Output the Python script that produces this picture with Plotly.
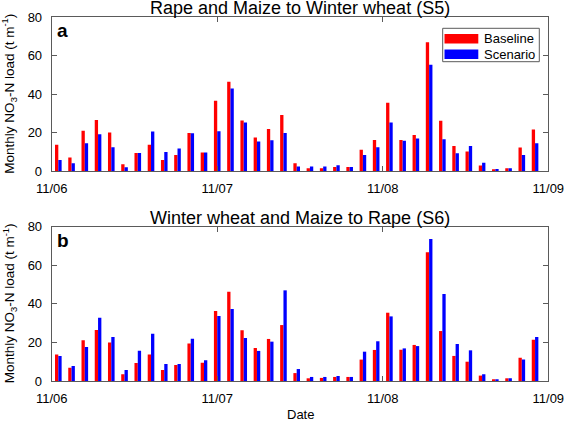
import plotly.graph_objects as go

months = list(range(1, 38))
tick_pos = [0.5, 13.0, 25.5, 38.0]
tick_text = ["11/06", "11/07", "11/08", "11/09"]

s5_baseline = [13.7, 7.0, 21.0, 26.6, 20.0, 3.5, 9.4, 13.7, 5.7, 8.3, 19.8, 9.6,
               36.5, 46.4, 26.3, 17.4, 21.9, 29.2, 4.0, 1.4, 1.4, 2.1, 2.1, 11.0,
               16.2, 35.5, 16.2, 18.8, 67.0, 26.1, 13.0, 10.1, 2.8, 0.7, 1.4, 12.2, 21.6]
s5_scenario = [5.7, 4.0, 14.4, 19.1, 12.3, 1.9, 9.4, 20.5, 9.9, 11.7, 19.7, 9.6,
               20.7, 43.0, 25.2, 15.3, 16.0, 19.8, 2.3, 2.3, 2.3, 3.0, 2.1, 8.3,
               12.3, 25.2, 15.8, 16.9, 55.3, 16.5, 9.2, 13.0, 4.3, 1.0, 1.4, 8.3, 14.4]
s6_baseline = [13.8, 6.9, 21.1, 26.4, 19.9, 3.5, 9.3, 13.7, 5.7, 8.3, 19.5, 9.5,
               36.3, 46.3, 26.3, 17.1, 21.8, 29.0, 4.1, 1.4, 1.6, 2.1, 2.1, 11.1,
               16.1, 35.4, 16.2, 18.7, 66.7, 25.9, 13.0, 10.0, 2.8, 0.9, 1.4, 12.1, 21.4]
s6_scenario = [13.0, 7.8, 17.6, 32.8, 22.8, 5.7, 15.7, 24.5, 8.8, 8.8, 21.9, 10.7,
               33.7, 37.3, 22.3, 15.6, 20.4, 47.0, 6.2, 2.1, 2.1, 2.6, 2.1, 15.2,
               20.6, 33.5, 16.9, 18.1, 73.6, 45.1, 19.2, 15.9, 3.5, 0.9, 1.4, 11.2, 22.8]

series_names = ["Baseline", "Scenario"]
titles = ["Rape and Maize to Winter wheat (S5)", "Winter wheat and Maize to Rape (S6)"]
panel_labels = ["a", "b"]
y_title = "Monthly NO<sub>3</sub>-N load (t m<sup>-1</sup>)"
x_title = "Date"

RED = "#ff0000"
BLUE = "#0000ff"
AXC = "#5a5a5a"
FONT = "Liberation Sans, Arial, sans-serif"
W, H = 567, 421


def px_x(p):
    return p / W


def px_y(p):
    return (H - p) / H


fig = go.Figure()
fig.add_trace(go.Bar(x=months, y=s5_baseline, name=series_names[0], marker_color=RED,
                     marker_line_width=0, xaxis="x", yaxis="y", offsetgroup="b"))
fig.add_trace(go.Bar(x=months, y=s5_scenario, name=series_names[1], marker_color=BLUE,
                     marker_line_width=0, xaxis="x", yaxis="y", offsetgroup="s"))
fig.add_trace(go.Bar(x=months, y=s6_baseline, name=series_names[0], marker_color=RED,
                     marker_line_width=0, xaxis="x2", yaxis="y2", offsetgroup="b"))
fig.add_trace(go.Bar(x=months, y=s6_scenario, name=series_names[1], marker_color=BLUE,
                     marker_line_width=0, xaxis="x2", yaxis="y2", offsetgroup="s"))

xd = [px_x(51.7), px_x(548.3)]
ydom_top = [px_y(171), px_y(17.3)]
ydom_bot = [px_y(381), px_y(226.7)]

axis_common = dict(showline=True, mirror="ticks", linecolor=AXC, linewidth=1,
                   ticks="inside", ticklen=5, tickcolor=AXC, showgrid=False,
                   zeroline=False, automargin=False,
                   tickfont=dict(size=13, color="#000", family=FONT))

fig.update_layout(
    width=W, height=H,
    margin=dict(l=0, r=0, t=0, b=0),
    paper_bgcolor="white", plot_bgcolor="white",
    font=dict(family=FONT, color="#000"),
    barmode="group", bargap=0.5, bargroupgap=0,
    showlegend=False,
    xaxis=dict(domain=xd, anchor="y", range=[0.5, 38], tickvals=tick_pos, ticktext=tick_text,
               ticklabelstandoff=5, **axis_common),
    yaxis=dict(domain=ydom_top, anchor="x", range=[0, 80], tickvals=[0, 20, 40, 60, 80],
               ticklabelstandoff=6, **axis_common),
    xaxis2=dict(domain=xd, anchor="y2", range=[0.5, 38], tickvals=tick_pos, ticktext=tick_text,
                ticklabelstandoff=5, **axis_common),
    yaxis2=dict(domain=ydom_bot, anchor="x2", range=[0, 80], tickvals=[0, 20, 40, 60, 80],
                ticklabelstandoff=6, **axis_common),
)

# titles, panel letters, y titles
for t, lab, yd in zip(titles, panel_labels, [ydom_top, ydom_bot]):
    fig.add_annotation(text=t, xref="paper", yref="paper", x=(xd[0] + xd[1]) / 2, y=yd[1],
                       xanchor="center", yanchor="bottom", showarrow=False, yshift=-2, borderpad=0,
                       font=dict(size=18, family=FONT, color="#000"))
    fig.add_annotation(text="<b>" + lab + "</b>", xref="paper", yref="paper", x=xd[0], y=yd[1],
                       xanchor="left", yanchor="top", showarrow=False, xshift=3, yshift=-1,
                       font=dict(size=19, family=FONT, color="#000"))
    fig.add_annotation(text=y_title, xref="paper", yref="paper", x=px_x(9.5), y=(yd[0] + yd[1]) / 2,
                       xanchor="center", yanchor="middle", textangle=-90, showarrow=False,
                       font=dict(size=13.5, family=FONT, color="#000"))

fig.add_annotation(text=x_title, xref="paper", yref="paper", x=(xd[0] + xd[1]) / 2, y=px_y(414.5),
                   xanchor="center", yanchor="middle", showarrow=False,
                   font=dict(size=13, family=FONT, color="#000"))

# legend box (top panel)
fig.add_shape(type="rect", xref="paper", yref="paper", x0=px_x(442.7), x1=px_x(539.3),
              y0=px_y(61.7), y1=px_y(28.3), line=dict(color=AXC, width=1), fillcolor="white", layer="above")
for i, (nm, col) in enumerate(zip(series_names, [RED, BLUE])):
    top = 34 + i * 15.5
    fig.add_shape(type="rect", xref="paper", yref="paper", x0=px_x(444.5), x1=px_x(478.3),
                  y0=px_y(top + 9.5), y1=px_y(top), line=dict(width=0), fillcolor=col, layer="above")
    fig.add_annotation(text=nm, xref="paper", yref="paper", x=px_x(481.5), y=px_y(top + 4.8),
                       xanchor="left", yanchor="middle", showarrow=False,
                       font=dict(size=13, family=FONT, color="#000"))

fig.write_html("out.html", config={"displayModeBar": False},
               post_script="document.body.style.margin='0';document.body.style.overflow='hidden';")
